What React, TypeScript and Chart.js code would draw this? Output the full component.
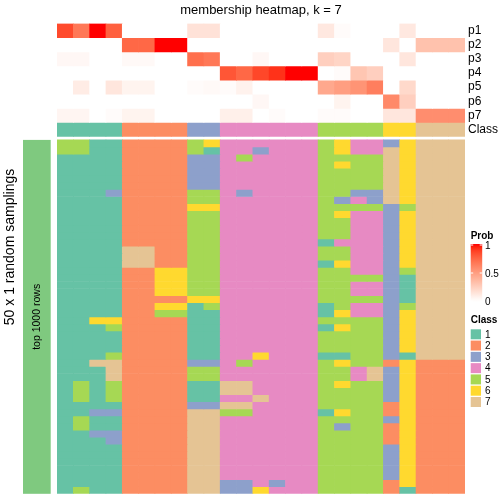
import React, { useEffect, useRef } from "react";
import { Chart, registerables } from "chart.js";

Chart.register(...registerables);

// ---------- text ----------
const chartTitle = "membership heatmap, k = 7";
const rowTitle = "50 x 1 random samplings";
const annotationLabel = "top 1000 rows";
const probLegendTitle = "Prob";
const classLegendTitle = "Class";

// ---------- data ----------
const sampleIds = [
  "S01", "S02", "S03", "S04", "S05", "S06", "S07", "S08", "S09", "S10",
  "S11", "S12", "S13", "S14", "S15", "S16", "S17", "S18", "S19", "S20",
  "S21", "S22", "S23", "S24", "S25",
];

const probRowLabels = ["p1", "p2", "p3", "p4", "p5", "p6", "p7"];
const classRowLabel = "Class";

const p1 = [0.86, 0.68, 1.0, 0.78, 0, 0, 0, 0, 0.15, 0.15, 0, 0, 0, 0, 0, 0, 0.12, 0.02, 0, 0, 0, 0.12, 0, 0, 0];
const p2 = [0, 0, 0, 0, 0.75, 0.75, 1.0, 1.0, 0, 0, 0, 0, 0, 0, 0, 0, 0, 0, 0, 0, 0.13, 0, 0.32, 0.32, 0.32];
const p3 = [0.04, 0.04, 0, 0, 0.03, 0.03, 0, 0, 0.72, 0.68, 0, 0, 0.04, 0, 0, 0, 0.25, 0.22, 0, 0, 0, 0.13, 0, 0, 0];
const p4 = [0, 0, 0, 0, 0, 0, 0, 0, 0, 0, 0.82, 0.75, 0.87, 0.93, 1.0, 1.0, 0, 0.02, 0.3, 0.25, 0, 0, 0, 0, 0];
const p5 = [0, 0.1, 0, 0.13, 0.06, 0.06, 0, 0, 0.02, 0.03, 0.02, 0.07, 0, 0, 0, 0, 0.45, 0.5, 0.55, 0.65, 0, 0.2, 0, 0, 0];
const p6 = [0, 0, 0, 0, 0, 0, 0, 0, 0, 0, 0, 0, 0.04, 0, 0, 0, 0, 0.06, 0, 0, 0.6, 0.25, 0, 0, 0];
const p7 = [0.05, 0.05, 0, 0.02, 0.06, 0.06, 0, 0, 0, 0, 0.08, 0.08, 0, 0.02, 0, 0, 0.02, 0.02, 0, 0, 0.13, 0.13, 0.58, 0.58, 0.58];

const topClass = [1, 1, 1, 1, 2, 2, 2, 2, 3, 3, 4, 4, 4, 4, 4, 4, 5, 5, 5, 5, 6, 6, 7, 7, 7];

const classNames = ["1", "2", "3", "4", "5", "6", "7"];
const classColors = ["#66C2A5", "#FC8D62", "#8DA0CB", "#E78AC3", "#A6D854", "#FFD92F", "#E5C494"];
const probLegendTicks = [1, 0.5, 0];

// one string per random sampling, one digit (class) per sample
const samplingRows = [
  "5511 2222 56 444444 5644 3 6 777",
  "5511 2222 51 443444 5644 7 6 777",
  "1111 2222 33 454444 5555 7 6 777",
  "1111 2222 33 444444 5655 7 6 777",
  "1111 2222 33 444444 5555 7 6 777",
  "1111 2222 33 444444 5555 7 6 777",
  "1111 2222 33 444444 5555 7 6 777",
  "1113 2222 55 434444 5533 7 6 777",
  "1111 2222 55 444444 5343 7 6 777",
  "1111 2222 66 444444 5555 3 5 777",
  "1111 2222 55 444444 5644 3 6 777",
  "1111 2222 55 444444 5544 3 6 777",
  "1111 2222 55 444444 5544 3 6 777",
  "1111 2222 55 444444 5544 3 6 777",
  "1111 2222 55 444444 1444 3 6 777",
  "1111 7722 55 444444 5544 3 6 777",
  "1111 7722 55 444444 5544 3 6 777",
  "1111 7722 55 444444 1644 3 6 777",
  "1111 2266 55 444444 5544 3 5 777",
  "1111 2266 55 444444 5555 3 1 777",
  "1111 2266 55 444444 5544 3 1 777",
  "1111 2266 55 444444 5544 3 1 777",
  "1111 2222 66 444444 5555 3 1 777",
  "1111 2266 15 444444 1544 3 5 777",
  "1111 2255 11 444444 1644 3 6 777",
  "1166 2222 11 444444 5555 3 6 777",
  "1115 2222 11 444444 1655 3 6 777",
  "1111 2222 11 444444 5555 3 6 777",
  "1111 2222 11 444444 5555 3 6 777",
  "1111 2222 11 444444 5555 3 6 777",
  "1115 2222 11 446444 1155 3 1 777",
  "1177 2222 33 454444 5655 2 6 222",
  "1117 2222 55 444444 5547 3 6 222",
  "1117 2222 55 444444 5547 3 6 222",
  "1515 2222 11 774444 5655 3 6 222",
  "1515 2222 11 774444 5555 3 6 222",
  "1515 2222 11 447444 5555 3 6 222",
  "1111 2222 33 774444 5555 2 6 222",
  "1133 2222 77 554444 1655 2 6 222",
  "1511 2222 77 444444 5555 3 6 222",
  "1511 2222 77 444444 5355 2 6 222",
  "1133 2222 77 444444 5555 2 6 222",
  "1113 2222 77 444444 5555 2 6 222",
  "1111 2222 77 444444 5555 3 6 222",
  "1111 2222 77 444444 5555 3 6 222",
  "1111 2222 77 444444 5555 3 6 222",
  "1111 2222 77 444444 5555 3 6 222",
  "1111 2222 77 444444 5555 3 6 222",
  "1111 2222 77 334344 5555 2 6 222",
  "1511 2222 77 336444 5555 2 1 222",
];

// ---------- layout constants ----------
const FONT = '"Liberation Sans", Arial, Helvetica, sans-serif';
const TOP_H = 14.2;
const GAP = 3.4;
const BOT_H = 7.12;

// ---------- colour: white -> red interpolated in LAB ----------
function toLin(c: number) {
  c /= 255;
  return c <= 0.04045 ? c / 12.92 : Math.pow((c + 0.055) / 1.055, 2.4);
}
function fromLin(c: number) {
  const v = c <= 0.0031308 ? 12.92 * c : 1.055 * Math.pow(Math.max(c, 0), 1 / 2.4) - 0.055;
  return Math.round(Math.min(1, Math.max(0, v)) * 255);
}
function rgb2lab(rgb: number[]) {
  const R = toLin(rgb[0]), G = toLin(rgb[1]), B = toLin(rgb[2]);
  const X = (0.4124 * R + 0.3576 * G + 0.1805 * B) / 0.95047;
  const Y = 0.2126 * R + 0.7152 * G + 0.0722 * B;
  const Z = (0.0193 * R + 0.1192 * G + 0.9505 * B) / 1.08883;
  const f = (t: number) => (t > 0.008856 ? Math.cbrt(t) : 7.787 * t + 16 / 116);
  const fx = f(X), fy = f(Y), fz = f(Z);
  return [116 * fy - 16, 500 * (fx - fy), 200 * (fy - fz)];
}
function lab2rgb(lab: number[]) {
  const fy = (lab[0] + 16) / 116;
  const fx = fy + lab[1] / 500;
  const fz = fy - lab[2] / 200;
  const finv = (t: number) => (t * t * t > 0.008856 ? t * t * t : (t - 16 / 116) / 7.787);
  const X = finv(fx) * 0.95047, Y = finv(fy), Z = finv(fz) * 1.08883;
  const R = 3.2406 * X - 1.5372 * Y - 0.4986 * Z;
  const G = -0.9689 * X + 1.8758 * Y + 0.0415 * Z;
  const B = 0.0557 * X - 0.204 * Y + 1.057 * Z;
  return [fromLin(R), fromLin(G), fromLin(B)];
}
const LAB_LOW = rgb2lab([255, 255, 255]);
const LAB_HIGH = rgb2lab([255, 0, 0]);
function probColor(v: number) {
  const t = Math.min(1, Math.max(0, v));
  const lab = LAB_LOW.map((l, k) => l + (LAB_HIGH[k] - l) * t);
  const c = lab2rgb(lab);
  return `rgb(${c[0]},${c[1]},${c[2]})`;
}

// ---------- datasets ----------
const probRows = [p1, p2, p3, p4, p5, p6, p7];
const yLabels = [...probRowLabels, classRowLabel];
const BOT_START = yLabels.length * TOP_H + GAP;
const Y_MAX = BOT_START + samplingRows.length * BOT_H;

function buildDatasets() {
  const common = {
    grouped: false,
    barPercentage: 1,
    categoryPercentage: 1,
    borderWidth: 0,
  };
  const ds: any[] = [];
  probRows.forEach((row, i) => {
    ds.push({
      ...common,
      label: probRowLabels[i],
      data: row.map(() => [i * TOP_H, (i + 1) * TOP_H]),
      backgroundColor: row.map(probColor),
    });
  });
  const ci = probRows.length;
  ds.push({
    ...common,
    label: classRowLabel,
    data: topClass.map(() => [ci * TOP_H, (ci + 1) * TOP_H]),
    backgroundColor: topClass.map((c) => classColors[c - 1]),
  });
  samplingRows.forEach((s, j) => {
    const cls = s.replace(/\s/g, "").split("").map(Number);
    ds.push({
      ...common,
      label: `sampling ${j + 1}`,
      data: cls.map(() => [BOT_START + j * BOT_H, BOT_START + (j + 1) * BOT_H]),
      backgroundColor: cls.map((c) => classColors[c - 1]),
    });
  });
  return ds;
}

// ---------- decorations: annotation bar, side titles, legends ----------
const decorPlugin = {
  id: "decor",
  afterDraw(chart: any) {
    const { ctx, scales } = chart;
    const y = scales.y;
    const yTop = y.getPixelForValue(BOT_START);
    const yBot = y.getPixelForValue(Y_MAX);
    ctx.save();

    // row annotation bar
    ctx.fillStyle = "#7FC97F";
    ctx.fillRect(23, yTop, 27.7, yBot - yTop);

    ctx.fillStyle = "#000";
    ctx.textAlign = "center";
    ctx.textBaseline = "middle";

    ctx.save();
    ctx.translate(37.5, (yTop + yBot) / 2);
    ctx.rotate(-Math.PI / 2);
    ctx.font = `10.5px ${FONT}`;
    ctx.fillText(annotationLabel, 0, 0);
    ctx.restore();

    ctx.save();
    ctx.translate(10.5, 247);
    ctx.rotate(-Math.PI / 2);
    ctx.font = `14px ${FONT}`;
    ctx.fillText(rowTitle, 0, 0);
    ctx.restore();

    // probability legend
    const lx = 470.7;
    const lw = 11.5;
    ctx.textAlign = "left";
    ctx.font = `bold 10px ${FONT}`;
    ctx.fillText(probLegendTitle, lx, 236);

    const gTop = 244, gBot = 302, v1 = 245, v0 = 301;
    const grad = ctx.createLinearGradient(0, gTop, 0, gBot);
    for (let k = 0; k <= 20; k++) {
      const yy = gTop + ((gBot - gTop) * k) / 20;
      const v = (v0 - yy) / (v0 - v1);
      grad.addColorStop(k / 20, probColor(v));
    }
    ctx.fillStyle = grad;
    ctx.fillRect(lx, gTop, lw, gBot - gTop);

    ctx.strokeStyle = "#fff";
    ctx.lineWidth = 1;
    ctx.font = `10px ${FONT}`;
    probLegendTicks.forEach((t) => {
      const yy = v0 - t * (v0 - v1);
      ctx.beginPath();
      ctx.moveTo(lx, yy);
      ctx.lineTo(lx + 2.5, yy);
      ctx.moveTo(lx + lw - 2.5, yy);
      ctx.lineTo(lx + lw, yy);
      ctx.stroke();
      ctx.fillStyle = "#000";
      ctx.fillText(String(t), 485, yy + 0.8);
    });

    // class legend
    ctx.font = `bold 10px ${FONT}`;
    ctx.fillStyle = "#000";
    ctx.fillText(classLegendTitle, lx, 320);
    ctx.font = `10px ${FONT}`;
    classNames.forEach((name, k) => {
      const cy = 334.3 + k * 11.28;
      ctx.fillStyle = classColors[k];
      ctx.fillRect(lx, cy - 5, 10.3, 10);
      ctx.fillStyle = "#000";
      ctx.fillText(name, 485, cy + 0.5);
    });

    ctx.restore();
  },
};

export default function App() {
  const ref = useRef<HTMLCanvasElement>(null);

  useEffect(() => {
    if (!ref.current) return;
    const chart = new Chart(ref.current, {
      type: "bar",
      data: { labels: sampleIds, datasets: buildDatasets() },
      options: {
        animation: false,
        responsive: false,
        devicePixelRatio: 1,
        layout: { padding: { left: 57, right: 0, top: 0, bottom: 7 } },
        plugins: {
          legend: { display: false },
          tooltip: { enabled: false },
          title: {
            display: true,
            text: chartTitle,
            fullSize: false,
            color: "#000",
            font: { family: FONT, size: 13, weight: "normal" },
            padding: { top: 3, bottom: 5 },
          },
        },
        scales: {
          x: { type: "category", display: false },
          y: {
            type: "linear",
            position: "right",
            reverse: true,
            min: 0,
            max: Y_MAX,
            grid: { display: false, drawTicks: false },
            border: { display: false },
            ticks: {
              autoSkip: false,
              padding: 3,
              color: "#000",
              font: { family: FONT, size: 12 },
              callback: (_v: any, i: number) => yLabels[i],
            },
            afterBuildTicks: (scale: any) => {
              scale.ticks = yLabels.map((_, i) => ({ value: (i + 0.5) * TOP_H }));
            },
            afterFit: (scale: any) => {
              scale.width = 39;
            },
          },
        },
      } as any,
      plugins: [decorPlugin],
    });
    return () => chart.destroy();
  }, []);

  return (
    <div style={{ position: "fixed", left: 0, top: 0, width: 504, height: 504, background: "#fff" }}>
      <canvas ref={ref} width={504} height={504} style={{ display: "block" }} />
    </div>
  );
}
